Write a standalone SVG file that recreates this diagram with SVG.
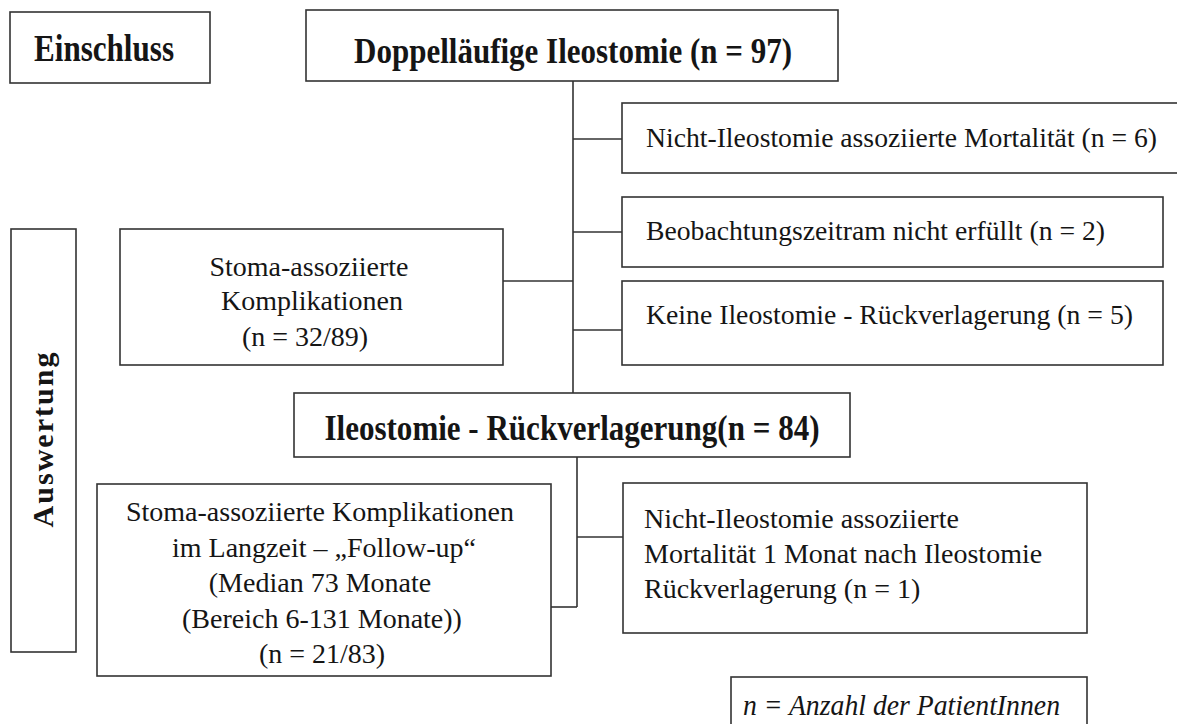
<svg xmlns="http://www.w3.org/2000/svg" width="1177" height="724" viewBox="0 0 1177 724">
<style>
rect.b{fill:#fff;stroke:#333;stroke-width:1.6}
text{font-family:"Liberation Serif","Times New Roman",serif;fill:#151515;font-size:28px}
.bold{font-weight:bold;font-size:35px}
.c{text-anchor:middle}
.it{font-style:italic;font-size:30px}
#connectors line{stroke:#333;stroke-width:1.6}
</style>
<rect width="1177" height="724" fill="#fff"/>
<g id="connectors">
<line x1="573" y1="81" x2="573" y2="393"/>
<line x1="573" y1="139" x2="622" y2="139"/>
<line x1="573" y1="232" x2="622" y2="232"/>
<line x1="573" y1="330" x2="622" y2="330"/>
<line x1="503" y1="281" x2="573" y2="281"/>
<line x1="577" y1="457" x2="577" y2="607"/>
<line x1="551" y1="607" x2="577" y2="607"/>
<line x1="577" y1="537" x2="623" y2="537"/>
</g>
<g id="einschluss"><rect class="b" x="10" y="12" width="200" height="71"/><text class="bold c" x="104" y="61" style="font-size:38px" textLength="140" lengthAdjust="spacingAndGlyphs">Einschluss</text></g>
<g id="doppel"><rect class="b" x="306" y="10" width="532" height="71"/><text class="bold c" x="573" y="63" textLength="438" lengthAdjust="spacingAndGlyphs">Doppelläufige Ileostomie (n = 97)</text></g>
<g id="nicht1"><rect class="b" x="622" y="103" width="560" height="70"/><text x="646" y="147" textLength="511" lengthAdjust="spacingAndGlyphs">Nicht-Ileostomie assoziierte Mortalität (n = 6)</text></g>
<g id="beob"><rect class="b" x="622" y="197" width="541" height="70"/><text x="646" y="240" textLength="459" lengthAdjust="spacingAndGlyphs">Beobachtungszeitram nicht erfüllt (n = 2)</text></g>
<g id="keine"><rect class="b" x="622" y="281" width="541" height="84"/><text x="646" y="324" textLength="487" lengthAdjust="spacingAndGlyphs">Keine Ileostomie - Rückverlagerung (n = 5)</text></g>
<g id="stoma1"><rect class="b" x="120" y="229" width="383" height="136"/>
<text class="c" x="309" y="276">Stoma-assoziierte</text>
<text class="c" x="312" y="310">Komplikationen</text>
<text class="c" x="305" y="346">(n = 32/89)</text></g>
<g id="auswertung"><rect class="b" x="11" y="229" width="65" height="423"/><text class="bold c" style="font-size:30px" transform="translate(53,440) rotate(-90)" textLength="175">Auswertung</text></g>
<g id="ileo"><rect class="b" x="294" y="393" width="556" height="64"/><text class="bold c" x="572" y="440" textLength="495" lengthAdjust="spacingAndGlyphs">Ileostomie - Rückverlagerung(n = 84)</text></g>
<g id="stoma2"><rect class="b" x="97" y="484" width="454" height="192"/>
<text class="c" x="320" y="521">Stoma-assoziierte Komplikationen</text>
<text class="c" x="324" y="557">im Langzeit – „Follow-up“</text>
<text class="c" x="320" y="592">(Median 73 Monate</text>
<text class="c" x="322" y="628">(Bereich 6-131 Monate))</text>
<text class="c" x="322" y="663">(n = 21/83)</text></g>
<g id="nicht2"><rect class="b" x="623" y="483" width="464" height="150"/>
<text x="644" y="528">Nicht-Ileostomie assoziierte</text>
<text x="644" y="563">Mortalität 1 Monat nach Ileostomie</text>
<text x="644" y="598">Rückverlagerung (n = 1)</text></g>
<g id="legend"><rect class="b" x="731" y="677" width="356" height="60"/><text class="it" x="743" y="715" textLength="317" lengthAdjust="spacingAndGlyphs">n = Anzahl der PatientInnen</text></g>
</svg>
